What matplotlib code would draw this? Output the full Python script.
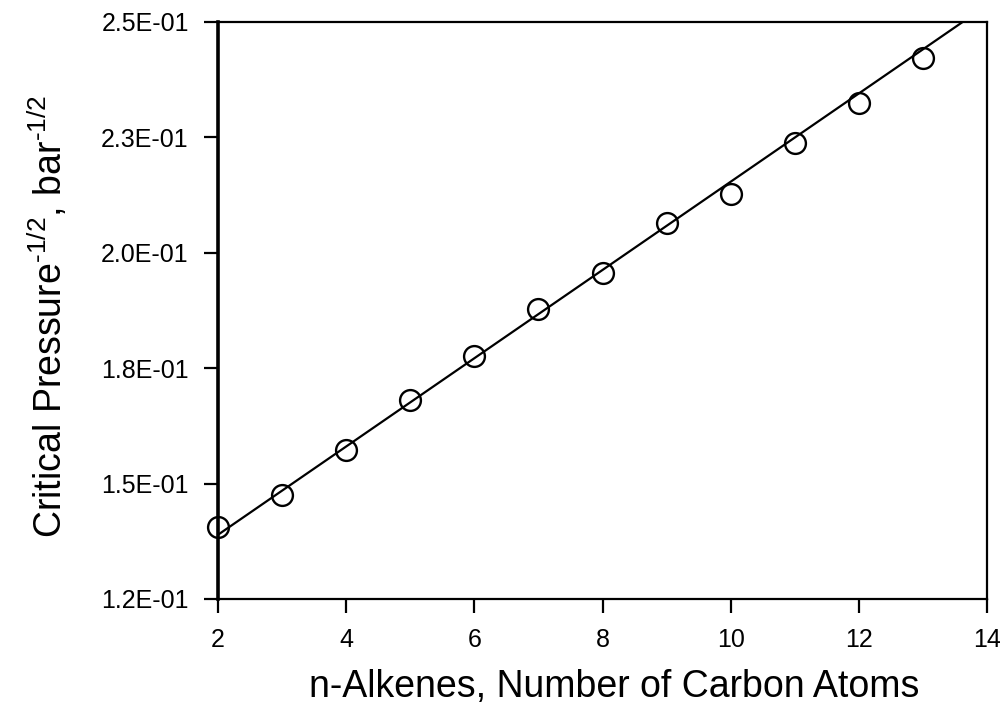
import numpy as np
import matplotlib
matplotlib.use("Agg")
import matplotlib.pyplot as plt

plt.rcParams['font.family'] = ['Liberation Sans', 'DejaVu Sans']
plt.rcParams['mathtext.fontset'] = 'custom'
plt.rcParams['mathtext.rm'] = 'Liberation Sans'

# data
carbons = [2, 3, 4, 5, 6, 7, 8, 9, 10, 11, 12, 13]
pc_inv_sqrt = [0.1406, 0.1475, 0.1573, 0.1681, 0.1776, 0.1878,
               0.1956, 0.2065, 0.2127, 0.2238, 0.2325, 0.2422]

# fitted line (value at n=2 and slope per carbon)
fit_start = 0.1389
fit_slope = 0.00956

yticks = [0.125, 0.15, 0.175, 0.2, 0.225, 0.25]
ytick_labels = ['1.2E-01', '1.5E-01', '1.8E-01', '2.0E-01', '2.3E-01', '2.5E-01']
xticks = [2, 4, 6, 8, 10, 12, 14]

fig = plt.figure(figsize=(10, 7.19), dpi=100)
ax = fig.add_axes([0.218, 0.167, 0.769, 0.8025])

xl = np.array([2, 14])
ax.plot(xl, fit_start + fit_slope * (xl - 2), color='black', lw=1.6, zorder=2)
ax.plot(carbons, pc_inv_sqrt, 'o', ms=15, mfc='none', mec='black', mew=1.7,
        zorder=3, clip_on=False)

ax.set_xlim(2, 14)
ax.set_ylim(0.125, 0.25)
ax.set_xticks(xticks)
ax.set_yticks(yticks)
ax.set_yticklabels(ytick_labels)
ax.tick_params(direction='out', length=10, width=1.6, labelsize=18, pad=11)

for side in ['top', 'right', 'bottom']:
    ax.spines[side].set_linewidth(1.6)
ax.spines['left'].set_linewidth(2.6)

ax.set_xlabel('n-Alkenes, Number of Carbon Atoms', fontsize=27)
ax.set_ylabel(r'Critical Pressure$^{\text{-1/2}}$, bar$^{\text{-1/2}}$', fontsize=27)
ax.xaxis.set_label_coords(0.515, -0.121)
ax.yaxis.set_label_coords(-0.1925, 0.49)

fig.savefig('out.png', dpi=100)
